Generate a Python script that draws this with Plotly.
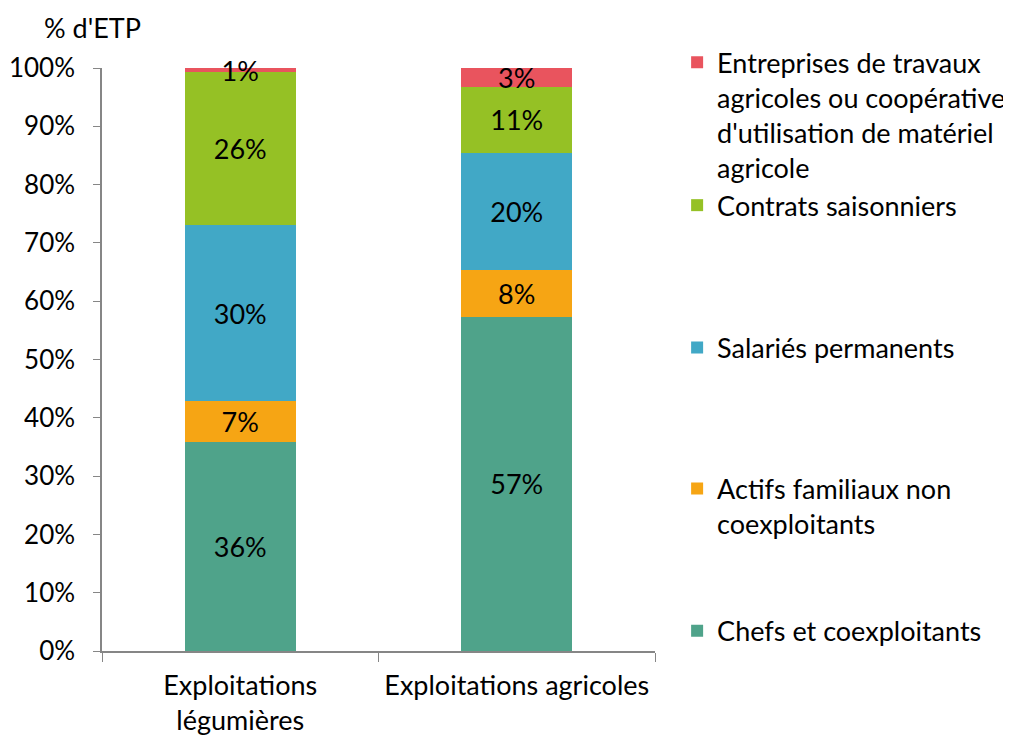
import plotly.graph_objects as go

# categories and series (share of ETP, %)
categories = ['Exploitations<br>légumières', 'Exploitations agricoles']
chefs = [35.8, 57.3]
actifs_familiaux = [7.0, 8.0]
salaries_permanents = [30.2, 20.2]
contrats_saisonniers = [26.3, 11.2]
entreprises_travaux = [0.7, 3.3]

series = [
    ('Chefs et coexploitants', chefs, '#4FA38A', 'legend5'),
    ('Actifs familiaux non<br>coexploitants', actifs_familiaux, '#F6A514', 'legend4'),
    ('Salariés permanents', salaries_permanents, '#41A8C6', 'legend3'),
    ('Contrats saisonniers', contrats_saisonniers, '#95C125', 'legend2'),
    ('Entreprises de travaux<br>agricoles ou coopérative<br>d\'utilisation de matériel<br>agricole',
     entreprises_travaux, '#E9545E', 'legend'),
]

FONT = 'Lato'
SIZE = 27
fig = go.Figure()
for name, vals, color, leg in series:
    fig.add_trace(go.Bar(
        x=categories,
        y=vals,
        name=name,
        marker=dict(color=color, line=dict(width=0)),
        text=[f'{round(v)}%' for v in vals],
        textposition='inside',
        insidetextanchor='middle',
        textangle=0,
        constraintext='none',
        cliponaxis=False,
        insidetextfont=dict(color='black', size=SIZE, family=FONT),
        legend=leg,
        showlegend=True,
        hoverinfo='skip',
    ))

def make_legend(y):
    return dict(x=1.040, y=y, xanchor='left', yanchor='top', valign='top',
                font=dict(family=FONT, size=SIZE, color='black'),
                bgcolor='rgba(0,0,0,0)', borderwidth=0, visible=True)

# page body adds an 8px offset, so the figure is 8px smaller than the window
fig.update_layout(
    width=1003, height=728,
    barmode='stack', bargap=0.6,
    showlegend=True,
    plot_bgcolor='white', paper_bgcolor='white',
    margin=dict(l=94, r=356, t=60, b=85, autoexpand=False),
    font=dict(family=FONT, size=SIZE, color='black'),
    uniformtext=dict(minsize=SIZE, mode='show'),
    legend=make_legend(1.051),
    legend2=make_legend(0.806),
    legend3=make_legend(0.562),
    legend4=make_legend(0.320),
    legend5=make_legend(0.076),
    annotations=[dict(text="% d'ETP", xref='paper', yref='paper', x=-0.108, y=1.069,
                      xanchor='left', yanchor='middle', showarrow=False,
                      font=dict(family=FONT, size=SIZE, color='black'))],
)
fig.update_yaxes(range=[0, 100], dtick=10, ticksuffix='%', showgrid=False, zeroline=False,
                 showline=True, linecolor='#868686', linewidth=1.5, automargin=False,
                 ticks='outside', ticklen=7, tickcolor='#868686', ticklabelstandoff=13,
                 tickfont=dict(size=26))
fig.update_xaxes(showgrid=False, showline=True, linecolor='#868686', linewidth=1.5,
                 ticks='outside', tickson='boundaries', ticklen=9, tickcolor='#868686',
                 tickangle=0, automargin=False, ticklabelstandoff=10)

fig.write_html('out.html')
